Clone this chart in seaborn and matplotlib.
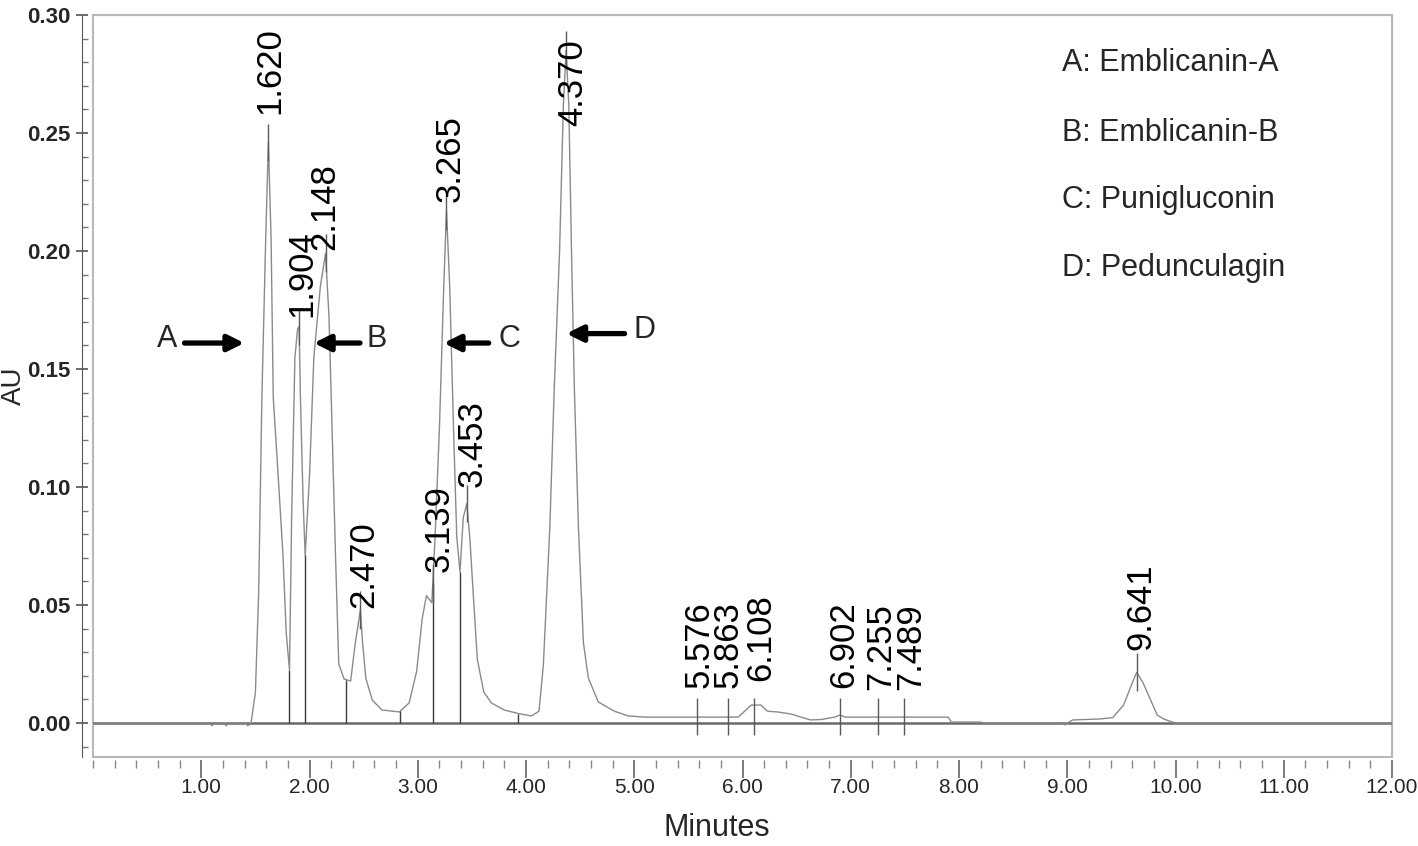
import numpy as np
import pandas as pd
import matplotlib
matplotlib.use("Agg")
import matplotlib.pyplot as plt
from matplotlib.patches import Rectangle
from matplotlib.ticker import MultipleLocator, FormatStrFormatter
import seaborn as sns

# chromatogram trace (minutes, AU)
trace_min = [0.00, 1.08, 1.10, 1.12, 1.21, 1.23, 1.25, 1.41, 1.43, 1.46,
             1.50, 1.53, 1.56, 1.595, 1.62, 1.645, 1.665, 1.71, 1.755, 1.785,
             1.815, 1.835, 1.865, 1.89, 1.904, 1.915, 1.94, 1.96, 2.00, 2.04,
             2.10, 2.148, 2.18, 2.21, 2.24, 2.27, 2.32, 2.38, 2.42, 2.47,
             2.49, 2.52, 2.58, 2.67, 2.83, 2.92, 2.99, 3.04, 3.08, 3.13,
             3.16, 3.20, 3.24, 3.265, 3.295, 3.33, 3.36, 3.39, 3.42, 3.453,
             3.48, 3.52, 3.55, 3.61, 3.68, 3.80, 3.93, 4.05, 4.12, 4.16,
             4.22, 4.26, 4.31, 4.345, 4.37, 4.395, 4.42, 4.447, 4.484, 4.53,
             4.576, 4.668, 4.816, 4.945, 5.10, 5.96, 6.08, 6.17, 6.23, 6.32,
             6.45, 6.54, 6.63, 6.73, 6.85, 6.90, 6.95, 7.10, 7.90, 7.93,
             8.20, 8.23, 8.96, 8.98, 9.00, 9.05, 9.30, 9.42, 9.52, 9.60,
             9.641, 9.70, 9.77, 9.83, 9.89, 9.97, 10.00, 12.00]
trace_au = [0.0, 0.0, -0.0012, 0.0, 0.0, -0.0012, 0.0, 0.0, -0.0012, 0.0,
            0.013, 0.055, 0.138, 0.205, 0.246, 0.205, 0.138, 0.105, 0.071, 0.038,
            0.0225, 0.088, 0.155, 0.167, 0.168, 0.140, 0.095, 0.071, 0.105, 0.155,
            0.185, 0.199, 0.172, 0.122, 0.071, 0.025, 0.0186, 0.0178, 0.033, 0.048,
            0.034, 0.019, 0.0097, 0.0055, 0.0047, 0.0085, 0.022, 0.044, 0.054, 0.051,
            0.079, 0.125, 0.185, 0.217, 0.185, 0.125, 0.079, 0.064, 0.087, 0.093,
            0.079, 0.049, 0.027, 0.0131, 0.0085, 0.0055, 0.004, 0.003, 0.005, 0.0245,
            0.083, 0.141, 0.200, 0.262, 0.285, 0.262, 0.200, 0.141, 0.083, 0.034,
            0.019, 0.0089, 0.005, 0.003, 0.0025, 0.0025, 0.0076, 0.0076, 0.005, 0.0047,
            0.0038, 0.0025, 0.0013, 0.0015, 0.0025, 0.0034, 0.0025, 0.0025, 0.0025, 0.0004,
            0.0004, 0.0, 0.0, -0.0008, 0.0, 0.0013, 0.0017, 0.0023, 0.0076, 0.017,
            0.0215, 0.017, 0.0097, 0.0034, 0.0017, 0.0004, 0.0, 0.0]

# integrated peaks (retention time labels)
peak_rt = [1.620, 1.904, 2.148, 2.470, 3.139, 3.265, 3.453, 4.370,
           5.576, 5.863, 6.108, 6.902, 7.255, 7.489, 9.641]
# valleys where the integrator drops a line to the baseline
valley_min = [1.815, 1.96, 2.335, 2.84, 3.139, 3.39, 3.93]

compound_tags = ["A", "B", "C", "D"]
compound_names = ["Emblicanin-A", "Emblicanin-B", "Punigluconin", "Pedunculagin"]

# label placement (minutes, AU of the label foot)
label_x = [1.636, 1.931, 2.143, 2.502, 3.194, 3.295, 3.498, 4.429,
           5.60, 5.867, 6.17, 6.936, 7.277, 7.55, 9.68]
label_y = [0.258, 0.172, 0.2004, 0.0487, 0.064, 0.2208, 0.100, 0.253,
           0.0148, 0.0148, 0.018, 0.0148, 0.0140, 0.0140, 0.031]
# arrows: tail, head, letter position, height
arrow_tail = [0.845, 2.466, 3.655, 4.91]
arrow_head = [1.397, 2.04, 3.24, 4.373]
arrow_letter = [0.687, 2.62, 3.85, 5.09]
arrow_y = [0.161, 0.161, 0.161, 0.165]

sns.set_style("white")
plt.rcParams["font.family"] = ["Liberation Sans", "DejaVu Sans"]

fig, ax = plt.subplots(figsize=(14.18, 8.46), dpi=100)
fig.subplots_adjust(left=0.0656, right=0.9817, top=0.9823, bottom=0.1052)

df = pd.DataFrame({"Minutes": trace_min, "AU": trace_au})
ax.axhline(0, color="#6a6a6a", lw=1.8, zorder=1)
sns.lineplot(data=df, x="Minutes", y="AU", ax=ax, color="#8a8a8a", lw=1.0,
             estimator=None, sort=False, zorder=2)

# drop lines from baseline to the valleys
tops = np.interp(valley_min, trace_min, trace_au)
ax.vlines(valley_min, 0, tops, colors="#3c3c3c", lw=1.0, zorder=3)

# peak apex markers
apex = np.interp(peak_rt, trace_min, trace_au)
for rt, h in zip(peak_rt, apex):
    if h < 0.01:
        lo, hi = -0.005, 0.0105
    else:
        lo, hi = h - 0.008, h + 0.008
    ax.vlines(rt, lo, hi, colors="#5a5a5a", lw=1.0, zorder=3)

for rt, lx, ly in zip(peak_rt, label_x, label_y):
    ax.text(lx, ly, f"{rt:.3f}", rotation=90, ha="center", va="bottom",
            fontsize=25, color="black", zorder=4)

for tag, x0, x1, xl, y in zip(compound_tags, arrow_tail, arrow_head, arrow_letter, arrow_y):
    ax.annotate("", xy=(x1, y), xytext=(x0, y),
                arrowprops=dict(arrowstyle="-|>", lw=3.8, color="black",
                                mutation_scale=24, shrinkA=0, shrinkB=0))
    ax.text(xl, y + 0.0015, tag, ha="center", va="center", fontsize=22)

legend_rows = [0.935, 0.841, 0.751, 0.659]
for tag, name, yy in zip(compound_tags, compound_names, legend_rows):
    ax.text(0.746, yy, f"{tag}: {name}", transform=ax.transAxes,
            ha="left", va="center", fontsize=22)

ax.set_xlim(0, 12)
ax.set_ylim(-0.0144, 0.30)
ax.set_xticks(np.arange(1, 13))
ax.xaxis.set_minor_locator(MultipleLocator(0.2))
ax.set_yticks(np.arange(0, 0.301, 0.05))
ax.yaxis.set_minor_locator(MultipleLocator(0.01))
ax.xaxis.set_major_formatter(FormatStrFormatter("%.2f"))
ax.yaxis.set_major_formatter(FormatStrFormatter("%.2f"))

for side in ["top", "right", "bottom", "left"]:
    ax.spines[side].set_color("#b8b8b8")
ax.spines["left"].set_position(("outward", 8))
ax.spines["left"].set_color("#555555")
ax.spines["bottom"].set_position(("outward", 2))
ax.spines["bottom"].set_color("none")
ax.add_patch(Rectangle((0, 0), 1, 1, transform=ax.transAxes, fill=False,
                       ec="#b8b8b8", lw=1.5, clip_on=False, zorder=0))

ax.tick_params(axis="x", which="major", direction="out", length=13, width=1.2,
               color="#666666", pad=0, labelsize=15, bottom=True)
ax.tick_params(axis="x", which="minor", direction="out", length=6, width=1.0,
               color="#888888", bottom=True)
ax.tick_params(axis="y", which="major", direction="inout", length=8, width=1.2,
               color="#555555", pad=4, labelsize=16, left=True)
ax.tick_params(axis="y", which="minor", direction="in", length=4, width=1.0,
               color="#777777", left=True)
for lab in ax.get_yticklabels():
    lab.set_fontweight("bold")

ax.set_xlabel("Minutes", fontsize=22)
ax.xaxis.set_label_coords(0.48, -0.076)
ax.set_ylabel("AU", fontsize=20)
ax.yaxis.set_label_coords(-0.051, 0.5)

fig.savefig("out.png", dpi=100)
